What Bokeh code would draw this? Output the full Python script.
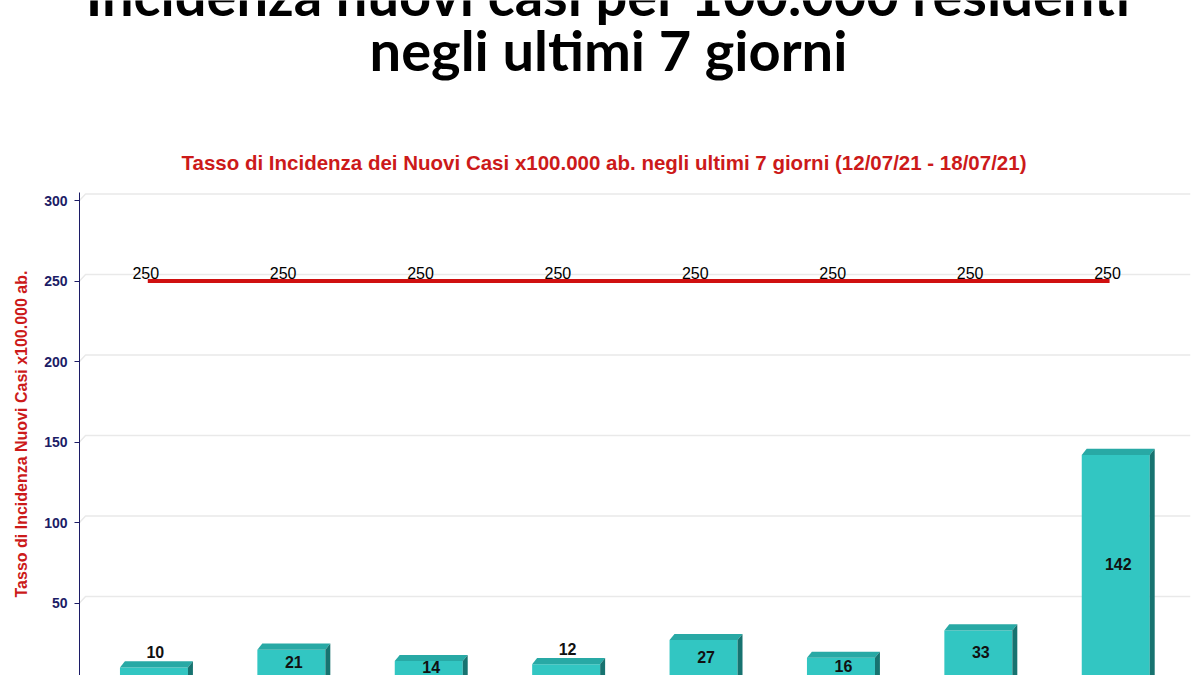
from bokeh.plotting import figure
from bokeh.layouts import column
from bokeh.models import ColumnDataSource, Range1d, FixedTicker
from bokeh.core.properties import value
from bokeh.embed import file_html
from bokeh.resources import INLINE

# ---- data ----
bar_index = [0, 1, 2, 3, 4, 5, 6, 7]
incidence = [10, 21, 14, 12, 27, 16, 33, 142]
threshold = [250, 250, 250, 250, 250, 250, 250, 250]
label_mode = ["above", "inside", "inside", "above", "inside", "inside", "inside", "inside"]
y_ticks = [0, 50, 100, 150, 200, 250, 300]

main_title_1 = "Incidenza nuovi casi per 100.000 residenti"
main_title_2 = "negli ultimi 7 giorni"
chart_title = "Tasso di Incidenza dei Nuovi Casi x100.000 ab. negli ultimi 7 giorni (12/07/21 - 18/07/21)"
y_title = "Tasso di Incidenza Nuovi Casi x100.000 ab."

# ---- styling ----
FRONT = "#32c6c2"
TOP = "#28a9a5"
SIDE = "#177370"
RED = "#cc1a1a"
NAVY = "#1c1c66"

PAGE_W = 1200
HEAD_H = 192
CHART_H = 483
BL, BR = 79, 10    # left / right borders of the plotting frame

X0, X1 = -0.542, 7.544
Y0, Y1 = 5, 305
W = 0.495          # bar width (category units)
DX = 0.036         # 3D depth, x
DY = 3.8           # 3D depth, y
GDX, GDY = 0.044, 4.0

# ---------------- header (slide titles), page-pixel coordinates ----------------
h = figure(width=PAGE_W, height=HEAD_H, output_backend="svg", toolbar_location=None,
           x_range=Range1d(BL, PAGE_W - BR), y_range=Range1d(HEAD_H, 0),
           x_axis_location=None, y_axis_location=None,
           min_border_left=BL, min_border_right=BR,
           min_border_top=0, min_border_bottom=0)
h.outline_line_color = None
h.xgrid.visible = False
h.ygrid.visible = False
h.text(x=[608], y=[-6.5], text=[main_title_1], text_align="center", text_baseline="middle",
       text_font=value("Lato"), text_font_style="bold", text_font_size="56px", text_color="black")
h.text(x=[608], y=[48.5], text=[main_title_2], text_align="center", text_baseline="middle",
       text_font=value("Lato"), text_font_style="bold", text_font_size="56px", text_color="black")
h.text(x=[603.5], y=[162], text=[chart_title], text_align="center", text_baseline="middle",
       text_font=value("Liberation Sans"), text_font_style="bold", text_font_size="20.5px",
       text_color=RED)

# ---------------- chart ----------------
p = figure(width=PAGE_W, height=CHART_H, output_backend="svg", toolbar_location=None,
           x_range=Range1d(X0, X1), y_range=Range1d(Y0, Y1),
           x_axis_location=None,
           min_border_left=BL, min_border_right=BR, min_border_top=0, min_border_bottom=0)
p.outline_line_color = None
p.xgrid.visible = False
p.ygrid.visible = False

ax = p.yaxis[0]
ax.ticker = FixedTicker(ticks=y_ticks)
ax.axis_line_color = NAVY
ax.axis_line_width = 1
ax.major_tick_line_color = NAVY
ax.major_tick_out = 5
ax.major_tick_in = 0
ax.minor_tick_line_color = None
ax.major_label_text_color = NAVY
ax.major_label_text_font = "Liberation Sans"
ax.major_label_text_font_style = "bold"
ax.major_label_text_font_size = "14px"
ax.major_label_standoff = 7
ax.axis_label = y_title
ax.axis_label_text_color = RED
ax.axis_label_text_font = "Liberation Sans"
ax.axis_label_text_font_style = "bold"
ax.axis_label_text_font_size = "16px"
ax.axis_label_standoff = 11

# back-wall gridlines with 3D offset
gxs, gys = [], []
for t in y_ticks:
    if t <= 0:
        continue
    gxs.append([X0, X0 + GDX, X1])
    gys.append([t, t + GDY, t + GDY])
p.multi_line(xs=gxs, ys=gys, line_color="#e9e9e9", line_width=1.5)

# bars: front face
src = ColumnDataSource(dict(x=bar_index, top=incidence))
p.vbar(x="x", width=W, bottom=0, top="top", source=src, fill_color=FRONT, line_color=None)

# top and side faces
top_xs, top_ys, side_xs, side_ys = [], [], [], []
for x, v in zip(bar_index, incidence):
    l, r = x - W / 2, x + W / 2
    top_xs.append([l, r, r + DX, l + DX])
    top_ys.append([v, v, v + DY, v + DY])
    side_xs.append([r, r + DX, r + DX, r])
    side_ys.append([0, DY, v + DY, v])
p.patches(xs=top_xs, ys=top_ys, fill_color=TOP, line_color=None)
p.patches(xs=side_xs, ys=side_ys, fill_color=SIDE, line_color=None)

# threshold line
line_x = [x - 0.045 for x in bar_index]
p.line(x=line_x, y=threshold, line_color="#d01010", line_width=4)
p.text(x=[x - 0.06 for x in bar_index], y=[t + 5.0 for t in threshold],
       text=[str(t) for t in threshold], text_align="center", text_baseline="middle",
       text_font=value("Liberation Sans"), text_font_size="16px", text_color="black")

# value labels
lx, ly, lt = [], [], []
for x, v, m in zip(bar_index, incidence, label_mode):
    lx.append(x + DX / 2 if m == "inside" else x + 0.01)
    ly.append(v / 2 + 3 if m == "inside" else v + DY + 5.6)
    lt.append(str(v))
p.text(x=lx, y=ly, text=lt, text_align="center", text_baseline="middle",
       text_font=value("Liberation Sans"), text_font_style="bold",
       text_font_size="16px", text_color="#111111")

layout = column(h, p, spacing=0)
open("out.html", "w").write(file_html(layout, INLINE))
